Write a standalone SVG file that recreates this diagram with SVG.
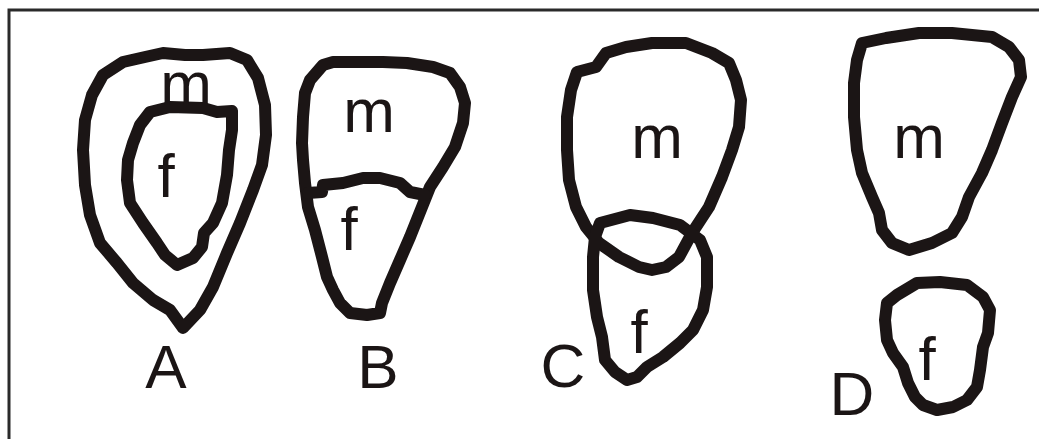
<svg xmlns="http://www.w3.org/2000/svg" width="1039" height="439" viewBox="0 0 1039 439">
<style>
.o{fill:none;stroke:#1b1515;stroke-width:12;stroke-linejoin:round;stroke-linecap:round}
.t{font-family:"Liberation Sans",Arial,sans-serif;font-size:62px;fill:#1b1515;text-anchor:middle}
</style>
<rect width="1039" height="439" fill="#ffffff"/>
<path d="M9,439 V10 H1039" fill="none" stroke="#2a2a2a" stroke-width="3"/>
<g id="panelA">
<polygon class="o" points="92,95 103,75 123,62 145,57 163,53 185,55 203,55 230,53 247,60 258,78 265,105 266,135 262,165 253,190 240,223 227,253 213,287 200,310 183,328 170,310 153,300 133,283 117,263 100,243 90,215 85,185 83,150 85,120"/>
<polygon class="o" points="140,125 150,112 170,107 203,108 217,112 232,111 232,130 229,150 227,175 222,203 213,223 204,233 202,247 193,258 177,265 165,255 157,243 143,223 130,203 127,180 128,160 133,143"/>
<text class="t" x="186" y="105">m</text>
<text class="t" x="166" y="197">f</text>
<text class="t" x="166" y="388">A</text>
</g>
<g id="panelB">
<polygon class="o" points="310,80 323,65 333,62 357,62 383,62 407,63 433,67 450,73 460,87 465,103 463,123 455,147 443,167 430,187 422,207 410,237 400,260 390,283 382,303 380,313 367,315 350,313 340,303 333,290 327,277 322,257 315,230 308,207 305,183 303,160 302,143 303,117 305,93"/>
<polyline class="o" points="308,193 322,192 323,185 343,183 363,178 380,178 400,183 410,192 425,195"/>
<text class="t" x="369" y="132">m</text>
<text class="t" x="349" y="250">f</text>
<text class="t" x="378" y="388">B</text>
</g>
<g id="panelC">
<polygon class="o" points="577,72 596,67 606,53 626,47 652,43 686,43 712,53 729,63 736,80 741,100 739,127 732,150 722,177 709,207 692,233 679,257 666,267 652,270 639,267 619,257 599,243 586,227 576,207 569,180 567,150 567,117 571,90"/>
<polygon class="o" points="600,223 630,215 653,218 680,225 700,240 707,257 707,287 703,310 693,330 680,343 663,357 647,367 637,377 627,380 615,372 605,360 602,337 597,317 593,290 593,257 595,237"/>
<text class="t" x="657" y="158">m</text>
<text class="t" x="639" y="353">f</text>
<text class="t" x="563" y="387">C</text>
</g>
<g id="panelD">
<polygon class="o" points="862,43 886,38 919,33 952,33 992,37 1009,47 1019,60 1021,77 1012,97 1002,123 992,150 982,173 969,197 962,217 952,233 932,243 909,250 892,243 882,230 879,213 872,197 862,173 857,150 854,117 854,83 857,60"/>
<polygon class="o" points="887,303 897,295 917,283 940,282 967,285 983,297 990,310 988,333 983,347 980,370 977,387 967,400 953,407 937,410 923,405 915,397 908,383 903,367 893,353 887,340 885,320"/>
<text class="t" x="919" y="158">m</text>
<text class="t" x="927" y="380">f</text>
<text class="t" x="852" y="415">D</text>
</g>
</svg>
